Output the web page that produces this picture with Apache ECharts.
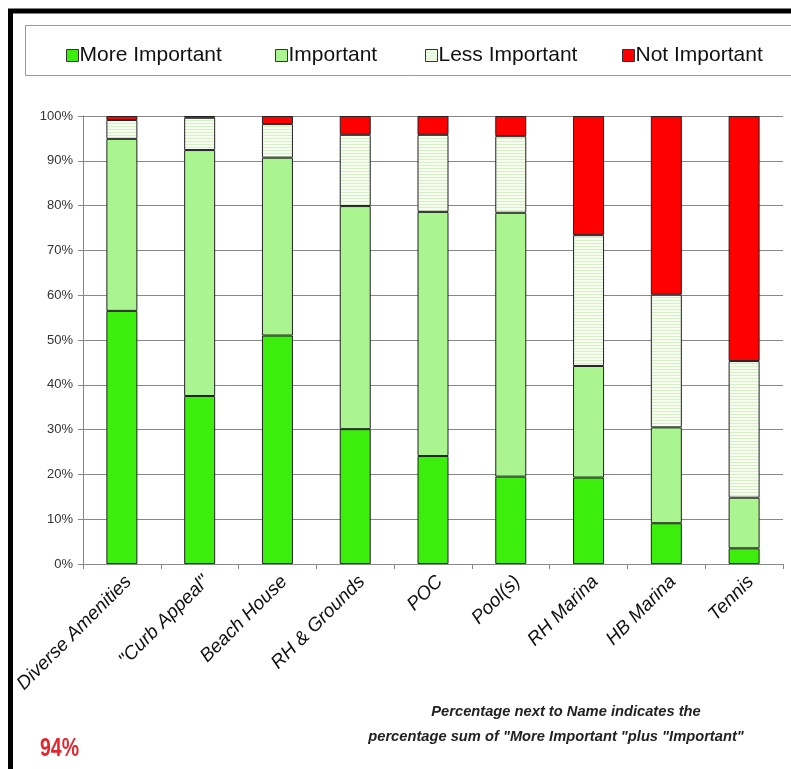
<!DOCTYPE html>
<html><head><meta charset="utf-8">
<script src="https://cdn.jsdelivr.net/npm/echarts@6/dist/echarts.min.js"></script>
<style>html,body{margin:0;padding:0;background:#fff}#c{width:791px;height:769px}</style>
</head><body><div id="c"></div>
<script>
const categories = ['Diverse Amenities', '"Curb Appeal"', 'Beach House', 'RH & Grounds', 'POC', 'Pool(s)', 'RH Marina', 'HB Marina', 'Tennis'];
const moreImportant = [56.5, 37.5, 51.0, 30.1, 24.1, 19.5, 19.3, 9.1, 3.5];
const important     = [38.4, 54.9, 39.7, 49.8, 54.5, 58.9, 24.9, 21.4, 11.3];
const lessImportant = [4.2, 7.2, 7.5, 15.9, 17.2, 17.1, 29.2, 29.6, 30.5];
const notImportant  = [0.9, 0.4, 1.8, 4.2, 4.2, 4.5, 26.6, 39.9, 54.7];
const seriesNames = ['More Important', 'Important', 'Less Important', 'Not Important'];
const yTicks = [0, 10, 20, 30, 40, 50, 60, 70, 80, 90, 100];

const pc = document.createElement('canvas');
pc.width = 4; pc.height = 3;
const g = pc.getContext('2d');
g.fillStyle = '#f6fdf0'; g.fillRect(0, 0, 4, 3);
g.fillStyle = '#d6efc6'; g.fillRect(0, 0, 4, 1);
const lessPattern = { image: pc, repeat: 'repeat' };

const colors = ['#3cee0c', '#aaf590', lessPattern, '#ff0000'];
const values = [moreImportant, important, lessImportant, notImportant];

const chart = echarts.init(document.getElementById('c'));
const legendLeft = [61, 270, 420, 617];
const baseFont = "'Liberation Sans',Arial,sans-serif";

chart.setOption({
  animation: false,
  backgroundColor: '#fff',
  legend: seriesNames.map((n, i) => ({
    data: [n], left: legendLeft[i], top: 40, itemWidth: 12, itemHeight: 12, itemGap: 0,
    icon: 'rect',
    itemStyle: { borderColor: '#333', borderWidth: 1 },
    textStyle: { fontSize: 21, fontFamily: baseFont, color: '#111', padding: [0, 0, 0, -4] }
  })),
  grid: { left: 83, right: 8, top: 116, bottom: 205, containLabel: false },
  xAxis: {
    type: 'category', data: categories,
    axisLine: { lineStyle: { color: '#888' } },
    axisTick: { show: true, length: 5, lineStyle: { color: '#888' } },
    axisLabel: { interval: 0, rotate: 45, fontSize: 19, fontStyle: 'italic', color: '#111', margin: 8,
      verticalAlign: 'top', fontFamily: baseFont }
  },
  yAxis: {
    type: 'value', min: 0, max: 100, interval: 10,
    axisLine: { show: true, lineStyle: { color: '#888' } },
    axisTick: { show: true, length: 5, lineStyle: { color: '#888' } },
    splitLine: { lineStyle: { color: '#888', width: 1 } },
    axisLabel: { formatter: v => yTicks.includes(v) ? v + '%' : '', fontSize: 13, color: '#333', margin: 10,
      fontFamily: baseFont }
  },
  series: seriesNames.map((n, i) => ({
    name: n, type: 'bar', stack: 'total', barWidth: 31,
    data: values[i],
    itemStyle: { color: colors[i], borderColor: '#222', borderWidth: 1 }
  })),
  graphic: [
    { type: 'rect', shape: { x: 10.5, y: 11, width: 820, height: 820 }, style: { fill: 'none', stroke: '#000', lineWidth: 5 }, silent: true },
    { type: 'rect', shape: { x: 25.5, y: 25.5, width: 800, height: 50 }, style: { fill: 'none', stroke: '#999', lineWidth: 1 }, silent: true },
    { type: 'text', x: 40, y: 749, scaleX: 0.75, style: { text: '94%', fill: '#e3262e', fontSize: 26, fontWeight: 'bold', verticalAlign: 'middle', fontFamily: baseFont } },
    { type: 'text', x: 566, y: 712, style: { text: 'Percentage next to Name indicates the', fill: '#222', fontSize: 14.7, fontStyle: 'italic', fontWeight: 'bold', align: 'center', verticalAlign: 'middle', fontFamily: baseFont } },
    { type: 'text', x: 556, y: 737, style: { text: 'percentage sum of "More Important "plus "Important"', fill: '#222', fontSize: 14.7, fontStyle: 'italic', fontWeight: 'bold', align: 'center', verticalAlign: 'middle', fontFamily: baseFont } }
  ]
});
</script></body></html>
